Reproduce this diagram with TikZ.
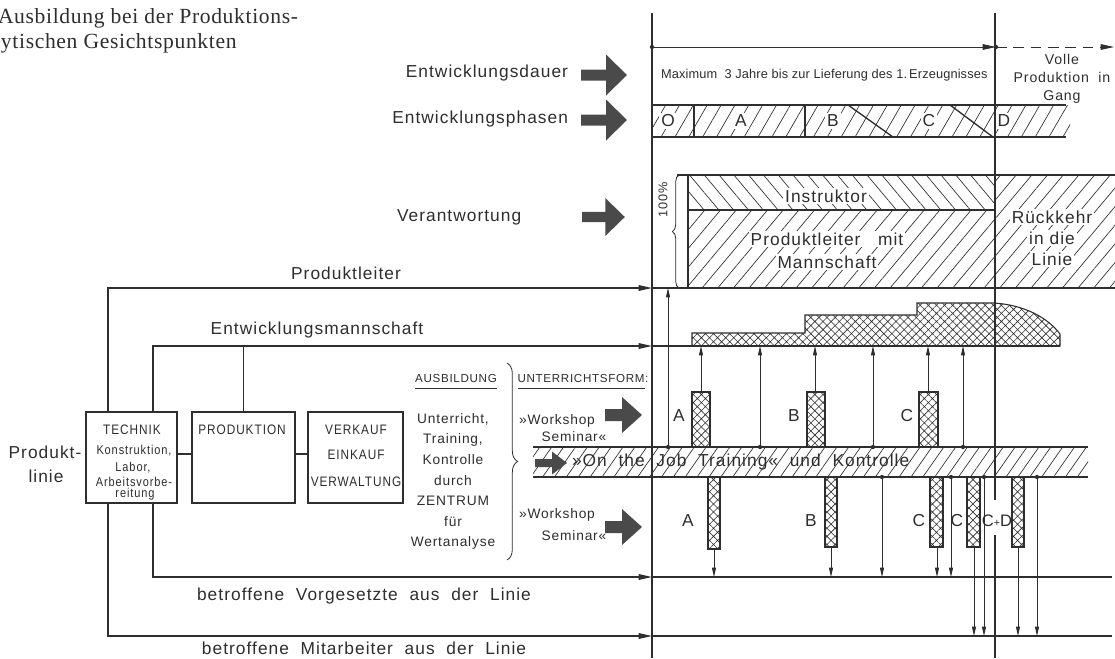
\documentclass[tikz,border=0pt]{standalone}
\usepackage{fontspec}
\setmainfont{Liberation Sans}[LetterSpace=6]
\newfontfamily\seriffont{Liberation Serif}[LetterSpace=3]
\newfontfamily\narrowfont{Liberation Sans}[FakeStretch=0.86,LetterSpace=7]
\usetikzlibrary{patterns.meta,decorations.pathreplacing,arrows.meta,calc}
\definecolor{ink}{HTML}{2E2E2E}
\definecolor{arrowfill}{HTML}{4A4A4A}
\tikzset{
  blockarrow/.pic={\fill[arrowfill] (0,-5.5) -- (25,-5.5) -- (25,-20.5) -- (46,0) -- (25,20.5) -- (25,5.5) -- (0,5.5) -- cycle;},
  midarrow/.pic={\fill[arrowfill] (0,-6) -- (17,-6) -- (17,-18) -- (37,0) -- (17,18) -- (17,6) -- (0,6) -- cycle;},
  smallarrow/.pic={\fill[arrowfill] (0,-4) -- (17,-4) -- (17,-11.5) -- (32,0) -- (17,11.5) -- (17,4) -- (0,4) -- cycle;},
}
\begin{document}
\begin{tikzpicture}[x=0.75pt,y=-0.75pt,line join=miter,
  every node/.style={inner sep=0pt,outer sep=0pt,text=ink},
  L/.style={font=\fontsize{13}{15}\selectfont},
  M/.style={font=\fontsize{10.3}{12}\selectfont},
  N/.style={font=\narrowfont\fontsize{10.3}{12}\selectfont},
  S/.style={font=\narrowfont\fontsize{9.6}{10}\selectfont},
  U/.style={font=\fontsize{8.7}{10}\selectfont},
  main/.style={draw=ink,line width=1pt},
  thin/.style={draw=ink,line width=0.6pt},
  bigtip/.style={-{Triangle[length=10pt,width=4.2pt]}},
  tip/.style={-{Triangle[length=7pt,width=3pt]}},
  hatchPH/.style={pattern={Lines[angle=60,distance=9pt,line width=0.5pt]},pattern color=ink},
  hatchNE/.style={pattern={Lines[angle=50,distance=9pt,line width=0.5pt]},pattern color=ink},
  hatchNW/.style={pattern={Lines[angle=130,distance=8.5pt,line width=0.5pt]},pattern color=ink},
  hatchOJ/.style={pattern={Lines[angle=55,distance=7.3pt,line width=0.5pt]},pattern color=ink},
  cross/.style={pattern={Hatch[angle=45,distance=4.3pt,line width=0.45pt]},pattern color=ink},
  box/.style={draw=ink,line width=1pt,minimum height=68.25pt},
  wbg/.style={fill=white,inner sep=1.5pt},
]
\useasboundingbox (0,0) rectangle (1115,658);
\fill[white] (0,0) rectangle (1115,658);

% caption fragment top left
\node[anchor=west,font=\seriffont\fontsize{16.2}{17}\selectfont] (cap1) at (-2,18) {Ausbildung bei der Produktions-};
\node[anchor=west,font=\seriffont\fontsize{16.2}{17}\selectfont] (cap2) at (1,43) {ytischen Gesichtspunkten};

% main verticals
\coordinate (V1top) at (652,13);
\coordinate (V1bot) at (652,658);
\draw[main] (V1top) -- (V1bot);
\coordinate (V2top) at (995,13);
\coordinate (V2mid) at (995,500);
\coordinate (V2low) at (995,535);
\coordinate (V2bot) at (995,658);
\draw[main] (V2top) -- (V2mid);
\draw[main] (V2low) -- (V2bot);

% duration arrow
\coordinate (d0) at (652,47);
\coordinate (d1) at (996,47);
\coordinate (d2) at (1114,47);
\draw[thin,bigtip] (d0) -- (d1);
\draw[thin,dash pattern=on 8pt off 5pt,bigtip] (d1) -- (d2);
\fill[ink] (d0) circle (1.6pt) (d1) circle (1.6pt);

\node[L,anchor=east] (lDauer) at (568,73) {Entwicklungsdauer};
\pic (aDauer) at (581,75) {blockarrow};
\node[anchor=west,font=\fontsize{9.6}{10}\selectfont\addfontfeature{LetterSpace=1}] (lMax) at (661,75) {Maximum\ \ 3 Jahre bis zur Lieferung des 1.\,Erzeugnisses};
\node[align=center,font=\fontsize{10.6}{13.5}\selectfont] (lVolle) at (1062,79) {Volle\\Produktion\ \ in\\Gang};

% phases
\node[L,anchor=east] (lPhasen) at (568,119) {Entwicklungsphasen};
\pic (aPhasen) at (581,120) {blockarrow};
\path[hatchPH] (652,105) rectangle (1070,137);
\draw[main] (652,105) -- (1066,105);
\draw[main] (652,137) -- (1066,137);
\draw[main] (694,105) -- (694,137);
\draw[main] (805,105) -- (805,137);
\draw[main] (848,105) -- (893,137);
\draw[main] (950,105) -- (993,137);
\node[L,wbg] (phO) at (668,121) {O};
\node[L,wbg] (phA) at (741,121) {A};
\node[L,wbg] (phB) at (833,121) {B};
\node[L,wbg] (phC) at (929,121) {C};
\node[L,wbg] (phD) at (1004,121) {D};

% responsibility
\node[L,anchor=west] (lVer) at (397,217) {Verantwortung};
\pic[scale=0.93] (aVer) at (582,217) {blockarrow};
\path[hatchNW] (688,175) rectangle (995,210);
\path[hatchNE] (688,210) rectangle (995,288);
\path[hatchNE] (995,175) rectangle (1115,288);
\draw[main] (677,175) -- (1115,175);
\draw[main] (688,175) -- (688,288);
\draw[main] (688,210) -- (995,210);
\draw[main] (652,288) -- (1115,288);
\draw[thin,decorate,decoration={brace,amplitude=5pt}] (679,288) -- (679,175);
\node[rotate=90,font=\fontsize{9.5}{10}\selectfont] (l100) at (663,200) {100\%};
\node[L,wbg] (lInstr) at (826,196) {Instruktor};
\node[L,wbg] (lPL1) at (827,239) {Produktleiter\ \ \ mit};
\node[L,wbg] (lPL2) at (827,262) {Mannschaft};
\node[L,wbg] (lR1) at (1052,217) {Rückkehr};
\node[L,wbg] (lR2) at (1052,238) {in die};
\node[L,wbg] (lR3) at (1052,259) {Linie};

% team size shape
\path[cross,draw=ink,line width=0.8pt] (692,346) -- (692,333) -- (805,333) -- (805,315) -- (917,315) -- (917,303) -- (994,303) .. controls (1025,305) and (1048,318) .. (1060,334) -- (1060,346) -- cycle;

% boxes
\node[box,minimum width=68.25pt] (tech) at (131.5,457.5) {};
\node[box,minimum width=77.25pt] (prod) at (243.5,457.5) {};
\node[box,minimum width=71.25pt] (verk) at (355.5,457.5) {};
\draw[main] (tech.east |- 0,454) -- (prod.west |- 0,454);
\draw[main] (prod.east |- 0,454) -- (verk.west |- 0,454);
\node[N] (tTech) at (132,430) {TECHNIK};
\node[S] (tTech2) at (134,451) {Konstruktion,};
\node[S] (tTech3) at (133,468) {Labor,};
\node[S] (tTech4) at (134,482) {Arbeitsvorbe-};
\node[S] (tTech5) at (135,494) {reitung};
\node[N] (tProd) at (242,430) {PRODUKTION};
\node[N] (tVerk1) at (356,430) {VERKAUF};
\node[N] (tVerk2) at (356,455) {EINKAUF};
\node[N] (tVerk3) at (356,482) {VERWALTUNG};
\node[L] (tLinie1) at (45,452) {Produkt-};
\node[L] (tLinie2) at (46,476) {linie};

% connectors from line organisation
\coordinate (PL) at (652,288);
\coordinate (EM) at (652,346);
\coordinate (VG) at (652,577);
\coordinate (MA) at (652,636);
\draw[main,bigtip] ($(tech.north)+(-23.5,0)$) |- (PL);
\draw[main,bigtip] ($(tech.north)+(21.5,0)$) |- (EM);
\draw[main] (EM) -- (1060,346);
\draw[main] (prod.north) -- (prod.north |- EM);
\draw[main] ($(verk.north)+(1.5,0)$) -- ($(verk.north)+(1.5,0)$ |- EM);
\draw[main,bigtip] ($(tech.south)+(-23.5,0)$) |- (MA);
\draw[main,bigtip] ($(tech.south)+(21.5,0)$) |- (VG);
\draw[main] ($(prod.south)+(-24.5,0)$) -- ($(prod.south)+(-24.5,0)$ |- MA);
\draw[main] ($(prod.south)+(24.5,0)$) -- ($(prod.south)+(24.5,0)$ |- VG);
\draw[main] ($(verk.south)+(-23.5,0)$) -- ($(verk.south)+(-23.5,0)$ |- MA);
\draw[main] ($(verk.south)+(21.5,0)$) -- ($(verk.south)+(21.5,0)$ |- VG);
\draw[main] (VG) -- (1112,577);
\draw[main] (MA) -- (1112,636);
\node[L] (lPL) at (346,273) {Produktleiter};
\node[L] (lEM) at (317,330) {Entwicklungsmannschaft};
\node[L,wbg] (lVG) at (364,596) {betroffene\ \ Vorgesetzte\ \ aus\ \ der\ \ Linie};
\node[L] (lMA) at (364,648) {betroffene\ \ Mitarbeiter\ \ aus\ \ der\ \ Linie};

% training column
\node[U] (tAus) at (456,378) {AUSBILDUNG};
\draw[thin] (415,388) -- (497,388);
\node[U] (tUF) at (583,378) {UNTERRICHTSFORM:};
\draw[thin] (518,388) -- (645,388);
\draw[thin,decorate,decoration={brace,amplitude=8pt}] (507,363) -- (507,560);
\node[M,align=center,font=\fontsize{10.3}{15.4}\selectfont] (tUnt) at (453,481.5) {Unterricht,\\Training,\\Kontrolle\\durch\\ZENTRUM\\für\\Wertanalyse};
\node[M] (tWS1a) at (557,421) {»Workshop};
\node[M] (tWS1b) at (574,437) {Seminar«};
\node[M] (tWS2a) at (557,515) {»Workshop};
\node[M] (tWS2b) at (574,536) {Seminar«};
\pic (aWS1) at (605,415) {midarrow};
\pic (aWS2) at (605,527) {midarrow};

% on the job band
\path[hatchOJ] (533,447) rectangle (1088,477);
\draw[main] (533,447) -- (1088,447);
\draw[main] (533,477) -- (1088,477);
\pic (aOJ) at (535,463) {smallarrow};
\node[L,anchor=west] (tOJ) at (572,462) {»On\ \ the\ \ Job\ \ Training«\ \ und\ \ Kontrolle};

% upper workshop bars
\path[cross,draw=ink,line width=0.8pt] (692,392) rectangle (710,447);
\path[cross,draw=ink,line width=0.8pt] (807,392) rectangle (825,447);
\path[cross,draw=ink,line width=0.8pt] (919,392) rectangle (938,447);
\node[L] (uA) at (679,416) {A};
\node[L] (uB) at (794,416) {B};
\node[L] (uC) at (907,416) {C};
\draw[thin,tip] (668,447) -- (PL -| 668,0);
\draw[thin,tip] (701,392) -- (701,346);
\draw[thin,tip] (760,447) -- (760,346);
\draw[thin,tip] (815,392) -- (815,346);
\draw[thin,tip] (873,447) -- (873,346);
\draw[thin,tip] (928,392) -- (928,346);
\draw[thin,tip] (963,447) -- (963,346);
\foreach \x in {668,760,873,963} \fill[ink] (\x,447) circle (1.6pt);

% lower workshop bars
\path[cross,draw=ink,line width=0.8pt] (708,477) rectangle (720,549);
\path[cross,draw=ink,line width=0.8pt] (825,477) rectangle (837,547);
\path[cross,draw=ink,line width=0.8pt] (930,477) rectangle (943,547);
\path[cross,draw=ink,line width=0.8pt] (967,477) rectangle (980,547);
\path[cross,draw=ink,line width=0.8pt] (1012,477) rectangle (1024,547);
\node[L] (lA) at (688,521) {A};
\node[L] (lB) at (811,521) {B};
\node[L] (lC1) at (919,521) {C};
\node[L] (lC2) at (957,521) {C};
\node[font=\fontsize{12.5}{14}\selectfont\addfontfeature{LetterSpace=-2}] (lCD) at (997,521) {C{\fontsize{8}{8}\selectfont+}D};
\draw[thin,tip] (714,549) -- (714,577);
\draw[thin,tip] (831,547) -- (831,577);
\draw[thin,tip] (882,477) -- (882,577);
\draw[thin,tip] (937,547) -- (937,577);
\draw[thin,tip] (951,477) -- (951,577);
\draw[thin,tip] (974,547) -- (974,636);
\draw[thin,tip] (984,477) -- (984,636);
\draw[thin,tip] (1018,547) -- (1018,636);
\draw[thin,tip] (1037,477) -- (1037,636);
\foreach \x in {882,951,984,1037} \fill[ink] (\x,477) circle (1.6pt);
\end{tikzpicture}
\end{document}
